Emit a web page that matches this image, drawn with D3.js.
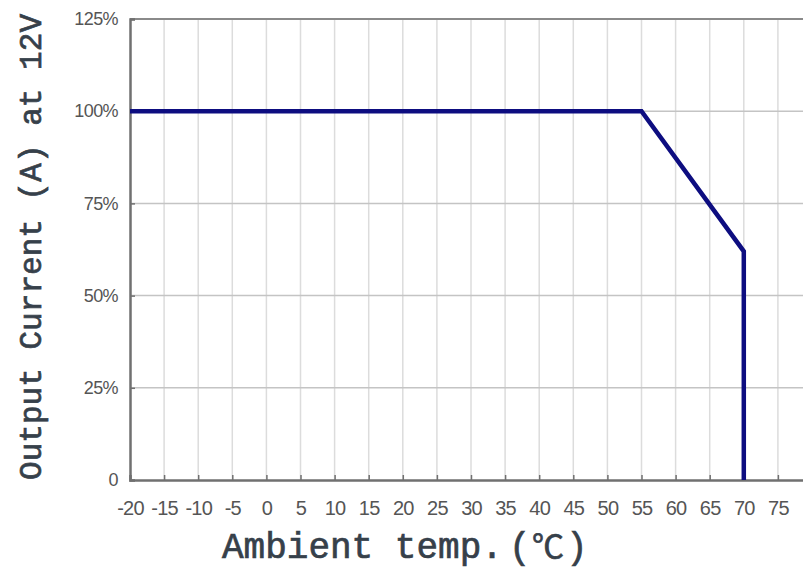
<!DOCTYPE html>
<html><head><meta charset="utf-8">
<script src="https://cdn.jsdelivr.net/npm/d3@7"></script>
<style>body{margin:0;background:#fff}svg{display:block}</style>
</head><body><svg id="c" width="803" height="572"></svg>
<script>
const xTicks = [-20,-15,-10,-5,0,5,10,15,20,25,30,35,40,45,50,55,60,65,70,75];
const yTicks = [0,25,50,75,100,125];
const yTickLabels = ["0","25%","50%","75%","100%","125%"];
const temps = [-20,55,70,70];
const loads = [100,100,62,0];

const svg = d3.select("#c");
const x = d3.scaleLinear().domain([-20,80]).range([130,812]);
const y = d3.scaleLinear().domain([0,125]).range([480,19]);

// vertical grid
svg.append("g").selectAll("line").data(xTicks.filter(d=>d>-20).concat([80])).join("line")
  .attr("x1",d=>x(d)).attr("x2",d=>x(d)).attr("y1",y(125)).attr("y2",y(0))
  .attr("stroke","#dcdcdc").attr("stroke-width",1.5);
// horizontal grid
svg.append("g").selectAll("line").data(yTicks.filter(d=>d>0&&d<125)).join("line")
  .attr("x1",x(-20)).attr("x2",803).attr("y1",d=>y(d)).attr("y2",d=>y(d))
  .attr("stroke","#c4c4c4").attr("stroke-width",1.5);
// top frame
svg.append("line").attr("x1",x(-20)).attr("x2",803).attr("y1",y(125)).attr("y2",y(125))
  .attr("stroke","#8a8a8a").attr("stroke-width",2);

// x axis
const xa = svg.append("g").attr("transform",`translate(0,${y(0)})`)
  .call(d3.axisBottom(x).tickValues(xTicks).tickSize(-5).tickPadding(21).tickFormat(d3.format("d")));
xa.select(".domain").attr("stroke","#707070").attr("stroke-width",2.5);
xa.selectAll(".tick line").attr("stroke","#707070").attr("stroke-width",1.5);
xa.selectAll("text").attr("font-family","Liberation Sans").attr("font-size",20).attr("fill","#555")
  .attr("letter-spacing",-0.8).text(d=>d<0?"-"+Math.abs(d):d);

// y axis
const ya = svg.append("g").attr("transform",`translate(${x(-20)},0)`)
  .call(d3.axisLeft(y).tickValues(yTicks).tickSize(-5).tickPadding(12).tickFormat((d,i)=>yTickLabels[i]));
ya.select(".domain").attr("stroke","#707070").attr("stroke-width",2.5);
ya.selectAll(".tick line").attr("stroke","#707070").attr("stroke-width",1.5);
ya.selectAll("text").attr("font-family","Liberation Sans").attr("font-size",18).attr("fill","#555")
  .attr("letter-spacing",-0.6);

// data line
svg.append("path").datum(temps.map((t,i)=>[t,loads[i]]))
  .attr("d",d3.line().x(d=>x(d[0])).y(d=>y(d[1])))
  .attr("fill","none").attr("stroke","#0d0d80").attr("stroke-width",4.5).attr("stroke-linejoin","miter");

// titles
const xt = svg.append("text").attr("y",558).attr("font-family","Liberation Mono").attr("font-size",36)
  .attr("fill","#36404a").attr("stroke","#36404a").attr("stroke-width",0.7);
xt.append("tspan").attr("x",222).text("Ambient temp.");
xt.append("tspan").attr("x",509).text("(");
xt.append("tspan").attr("x",532).attr("font-family","Noto Sans CJK SC").attr("font-size",32).text("℃");
xt.append("tspan").attr("x",566).text(")");

svg.append("text").attr("transform","translate(41,480) rotate(-90)")
  .attr("font-family","Liberation Mono").attr("font-size",31).attr("fill","#36404a")
  .attr("stroke","#36404a").attr("stroke-width",0.7)
  .attr("textLength",466).attr("lengthAdjust","spacing")
  .text("Output Current (A) at 12V");
</script></body></html>
